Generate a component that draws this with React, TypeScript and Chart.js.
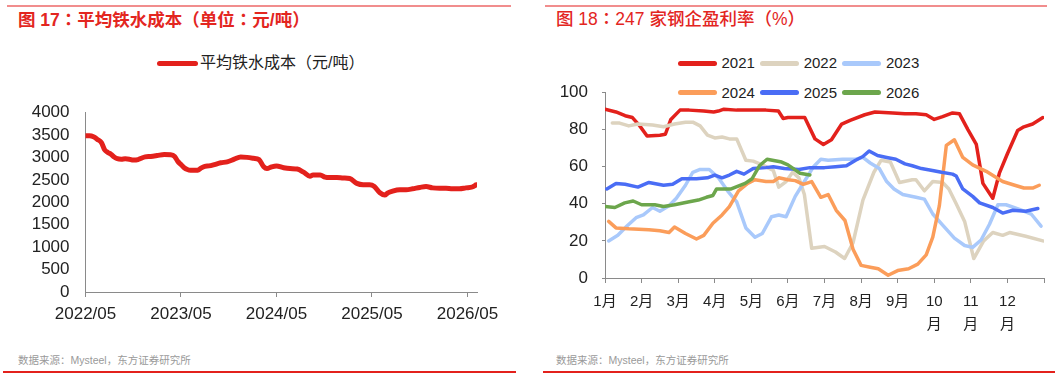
import React, { useEffect, useRef } from 'react';
import { Chart, registerables } from 'chart.js';

Chart.register(...registerables);

const FONT = '"Liberation Sans", "Noto Sans CJK SC", sans-serif';
const TITLE_FONT = '"Liberation Sans", "Noto Sans CJK TC", sans-serif';
const RED = '#e3211c';

// ---------- Figure 17: average hot-metal cost (months since 2022/05) ----------
const costMonths = [0, 0.5, 1.0, 1.5, 2.0, 2.4, 2.8, 3.2, 3.6, 4.0, 4.5, 5.0, 5.5, 6.0, 6.6, 7.0, 7.5, 8.2, 9.0, 9.9, 10.7, 11.2, 11.6, 12.0, 12.4, 12.8, 13.2, 14.1, 14.5, 15.0, 15.5, 16.2, 17.0, 17.8, 18.7, 19.5, 20.3, 21.1, 21.8, 22.4, 22.8, 23.4, 24.0, 24.9, 25.7, 26.6, 27.4, 28.2, 28.6, 29.5, 30.1, 30.7, 31.6, 32.4, 33.2, 34.1, 34.9, 35.7, 36.3, 37.0, 37.6, 38.0, 38.6, 39.5, 40.3, 41.1, 42.0, 42.8, 43.6, 44.5, 45.3, 46.1, 47.0, 47.8, 48.6, 49.1];
const costValues = [3480, 3480, 3460, 3400, 3330, 3170, 3110, 3070, 3010, 2970, 2960, 2970, 2960, 2940, 2950, 2980, 3010, 3020, 3040, 3065, 3060, 3020, 2910, 2840, 2770, 2730, 2715, 2715, 2760, 2800, 2810, 2840, 2880, 2900, 2960, 3010, 3000, 2980, 2950, 2790, 2750, 2790, 2810, 2770, 2750, 2740, 2670, 2580, 2610, 2610, 2560, 2550, 2550, 2540, 2530, 2420, 2390, 2390, 2350, 2210, 2160, 2210, 2250, 2280, 2280, 2300, 2330, 2350, 2320, 2310, 2310, 2300, 2300, 2320, 2340, 2390];
const costTickMonths = [0, 12, 24, 36, 48];
const costTickLabels = ['2022/05', '2023/05', '2024/05', '2025/05', '2026/05'];

// ---------- Figure 18: profitability of 247 steel mills (months since Jan 1) ----------
const monthLabels = ['1月', '2月', '3月', '4月', '5月', '6月', '7月', '8月', '9月', '10月', '11月', '12月'];

const t2021 = [0, 0.3, 0.55, 0.75, 0.95, 1.15, 1.5, 1.65, 1.8, 2.05, 2.3, 2.7, 2.97, 3.1, 3.25, 3.6, 4.0, 4.4, 4.74, 4.87, 5.0, 5.2, 5.46, 5.74, 5.97, 6.19, 6.47, 6.7, 7.1, 7.38, 7.87, 8.2, 8.5, 8.78, 9.0, 9.23, 9.5, 9.69, 9.92, 10.15, 10.33, 10.6, 10.78, 11.0, 11.28, 11.45, 11.69, 11.97];
const v2021 = [91, 89.5, 87.5, 86.5, 82, 76.5, 77, 77.5, 85.5, 90.5, 90.5, 90, 89.5, 90, 91, 90.5, 90.5, 90.5, 90, 86, 86.5, 86.5, 86.5, 75, 72, 74.5, 83, 85, 88, 89.5, 89, 88.5, 88.5, 88, 85.5, 87, 89, 88.5, 80, 72, 51, 43, 56.5, 67, 79.5, 81.5, 83, 86.5];

const t2022 = [0.2, 0.4, 0.65, 0.9, 1.3, 1.6, 1.9, 2.2, 2.4, 2.6, 2.8, 3.0, 3.2, 3.4, 3.6, 3.85, 4.05, 4.3, 4.6, 4.75, 4.95, 5.13, 5.3, 5.45, 5.65, 6.0, 6.3, 6.55, 6.78, 7.05, 7.35, 7.55, 7.8, 8.05, 8.4, 8.5, 8.73, 8.96, 9.23, 9.4, 9.6, 9.83, 10.08, 10.35, 10.6, 10.87, 11.06, 11.5, 11.97];
const v2022 = [83.5, 83.5, 82, 83, 82.5, 81.5, 83, 84, 84, 82, 77, 75.5, 76, 75, 75, 63.5, 63, 61, 58, 49, 52, 57, 54, 45, 16, 17, 14, 10.5, 19, 42, 57, 63.5, 62.5, 51.5, 53, 53, 47, 52, 51.5, 48, 40, 30.5, 10.5, 20, 24.5, 23, 24.5, 22.5, 20];

const t2023 = [0.1, 0.35, 0.6, 0.85, 1.05, 1.3, 1.5, 1.75, 1.95, 2.2, 2.4, 2.6, 2.85, 3.1, 3.35, 3.6, 3.85, 4.1, 4.3, 4.55, 4.75, 4.95, 5.2, 5.45, 5.7, 5.9, 6.1, 6.5, 6.85, 7.05, 7.25, 7.5, 7.7, 7.9, 8.14, 8.5, 8.73, 8.96, 9.23, 9.55, 9.83, 10.05, 10.28, 10.51, 10.74, 10.96, 11.33, 11.65, 11.92];
const v2023 = [20, 23, 28, 32.5, 34, 38, 36, 39, 43, 50, 57, 58.5, 58.5, 54, 47, 41, 27, 22, 24, 33, 34, 33, 44, 52, 60, 64, 63.5, 64, 64, 65, 62, 59, 52, 48, 45, 43.5, 42.5, 34.5, 28.5, 21.5, 17.5, 16.5, 20.5, 29, 39.5, 39.5, 37, 34.5, 28];

const t2024 = [0.1, 0.3, 0.65, 1.2, 1.5, 1.75, 1.9, 2.2, 2.5, 2.7, 2.95, 3.2, 3.4, 3.65, 3.9, 4.1, 4.4, 4.6, 4.75, 5.0, 5.2, 5.42, 5.65, 5.9, 6.1, 6.32, 6.56, 6.78, 7.0, 7.25, 7.47, 7.74, 8.0, 8.3, 8.55, 8.78, 8.96, 9.14, 9.33, 9.55, 9.78, 10.05, 10.42, 10.87, 11.2, 11.45, 11.69, 11.87];
const v2024 = [30.5, 27, 26.5, 26, 25.5, 24.5, 27.5, 24, 21, 23, 29.5, 34, 38.5, 47, 51, 53, 52, 52, 54, 53, 52.5, 50.5, 52, 43.5, 45, 36.5, 31, 15.5, 6.8, 5.8, 5, 1.5, 4, 5, 7.5, 12.5, 22, 39, 71.5, 74.5, 65, 61, 57.5, 52, 50, 48.5, 48.5, 50];

const t2025 = [0.05, 0.3, 0.55, 0.9, 1.2, 1.6, 1.85, 2.1, 2.5, 2.8, 3.0, 3.2, 3.4, 3.6, 3.8, 4.05, 4.4, 4.6, 4.9, 5.3, 5.6, 6.0, 6.3, 6.6, 6.85, 7.05, 7.22, 7.45, 7.7, 7.95, 8.2, 8.4, 8.65, 8.95, 9.2, 9.5, 9.6, 9.78, 10.05, 10.24, 10.6, 10.87, 11.15, 11.5, 11.83];
const v2025 = [48, 51, 50.5, 49, 51.5, 50, 50.5, 53.5, 53.5, 54, 55.5, 54, 55.5, 57.5, 56, 59, 59.5, 60, 59, 58.5, 59.5, 59.5, 60, 60.5, 63.5, 65.5, 68.5, 66, 65, 64, 61.5, 60.5, 59, 58, 57, 56, 55, 48, 44, 40.5, 38, 35, 36.5, 36, 37.5];

const t2026 = [0, 0.27, 0.54, 0.77, 1.0, 1.36, 1.6, 1.9, 2.27, 2.55, 2.77, 2.95, 3.05, 3.45, 3.83, 4.02, 4.22, 4.43, 4.83, 5.0, 5.33, 5.6];
const v2026 = [38.5, 38, 40.5, 41.5, 39.5, 39.5, 38.5, 39.5, 41, 42, 43.5, 44.5, 48, 48, 51, 53.5, 60.5, 64, 62.5, 61, 56.5, 55.5];

const seriesNames = ['2021', '2022', '2023', '2024', '2025', '2026'];
const seriesColors = ['#e3211c', '#ddd3bf', '#a9c9fb', '#fb9d5a', '#4a6df5', '#6ca64c'];
const seriesTimes = [t2021, t2022, t2023, t2024, t2025, t2026];
const seriesValues = [v2021, v2022, v2023, v2024, v2025, v2026];

const zip = (ts: number[], vs: number[]) => ts.map((t, i) => ({ x: t, y: vs[i] }));

const tickFont = (size: number, lineHeight?: number) => ({ family: FONT, size, lineHeight });

function CostChart() {
  const ref = useRef<HTMLCanvasElement | null>(null);
  useEffect(() => {
    if (!ref.current) return;
    const chart = new Chart(ref.current, {
      type: 'line',
      data: {
        datasets: [
          {
            label: '平均铁水成本（元/吨）',
            data: zip(costMonths, costValues),
            borderColor: RED,
            backgroundColor: RED,
            borderWidth: 5,
            pointRadius: 0,
            cubicInterpolationMode: 'monotone',
            borderCapStyle: 'round',
            borderJoinStyle: 'round',
          },
        ],
      },
      options: {
        animation: false,
        responsive: false,
        maintainAspectRatio: false,
        layout: { padding: { top: 13.5, right: 43, left: 0, bottom: 0 } },
        plugins: { legend: { display: false }, tooltip: { enabled: false } },
        scales: {
          x: {
            type: 'linear',
            min: 0,
            max: 49.2,
            afterBuildTicks: (s: any) => {
              s.ticks = costTickMonths.map((v) => ({ value: v }));
            },
            afterFit: (s: any) => {
              s.height = 41;
            },
            ticks: {
              callback: (v: any) => {
                const i = costTickMonths.indexOf(Number(v));
                return i >= 0 ? costTickLabels[i] : '';
              },
              font: tickFont(17),
              color: '#222',
              padding: 7,
              maxRotation: 0,
              autoSkip: false,
            },
            grid: { drawOnChartArea: false, drawTicks: true, tickLength: 5, color: '#8a8a8a' },
            border: { display: true, color: '#8a8a8a', width: 1 },
          },
          y: {
            min: 0,
            max: 4000,
            afterFit: (s: any) => {
              s.width = 85.5;
            },
            ticks: {
              stepSize: 500,
              autoSkip: false,
              callback: (v: any) => String(v),
              font: tickFont(17, 1),
              color: '#222',
              padding: 16,
            },
            grid: { display: false, drawTicks: false },
            border: { display: true, color: '#8a8a8a', width: 1 },
          },
        },
      },
    } as any);
    return () => chart.destroy();
  }, []);
  return <canvas ref={ref} width={520} height={245} style={{ position: 'absolute', left: 0, top: 88 }} />;
}

function ProfitChart() {
  const ref = useRef<HTMLCanvasElement | null>(null);
  useEffect(() => {
    if (!ref.current) return;
    const chart = new Chart(ref.current, {
      type: 'line',
      data: {
        datasets: seriesNames.map((name, i) => ({
          label: name,
          data: zip(seriesTimes[i], seriesValues[i]),
          borderColor: seriesColors[i],
          backgroundColor: seriesColors[i],
          borderWidth: 3.5,
          pointRadius: 0,
          tension: 0,
          borderCapStyle: 'round',
          borderJoinStyle: 'round',
          order: seriesNames.length - i,
        })),
      },
      options: {
        animation: false,
        responsive: false,
        maintainAspectRatio: false,
        layout: { padding: { top: 13, right: 17, left: 0, bottom: 0 } },
        plugins: { legend: { display: false }, tooltip: { enabled: false } },
        scales: {
          x: {
            type: 'linear',
            min: 0,
            max: 12,
            afterBuildTicks: (s: any) => {
              s.ticks = [...monthLabels.map((_, i) => ({ value: i })), { value: 12 }];
            },
            afterFit: (s: any) => {
              s.height = 62;
            },
            ticks: {
              callback: (v: any) => {
                const lab = monthLabels[Number(v)];
                if (!lab) return '';
                return lab.length > 2 ? [lab.slice(0, -1), lab.slice(-1)] : lab;
              },
              font: tickFont(15, 1.55),
              color: '#222',
              padding: 7,
              maxRotation: 0,
              autoSkip: false,
            },
            grid: { drawOnChartArea: false, drawTicks: true, tickLength: 5, color: '#8a8a8a' },
            border: { display: true, color: '#8a8a8a', width: 1 },
          },
          y: {
            min: 0,
            max: 100,
            afterFit: (s: any) => {
              s.width = 65;
            },
            ticks: { stepSize: 20, autoSkip: false, font: tickFont(17, 1), color: '#222', padding: 14 },
            grid: { drawOnChartArea: false, drawTicks: true, tickLength: 3, color: '#8a8a8a' },
            border: { display: true, color: '#8a8a8a', width: 1 },
          },
        },
      },
    } as any);
    return () => chart.destroy();
  }, []);
  return <canvas ref={ref} width={521} height={270} style={{ position: 'absolute', left: 540, top: 70 }} />;
}

const abs = (left: number, top: number, extra: React.CSSProperties = {}): React.CSSProperties => ({
  position: 'absolute',
  left,
  top,
  whiteSpace: 'nowrap',
  fontFamily: FONT,
  ...extra,
});

export default function App() {
  return (
    <div
      style={{
        position: 'absolute',
        left: 0,
        top: 0,
        width: 1061,
        height: 379,
        background: '#fff',
        overflow: 'hidden',
      }}
    >
      {/* top rules */}
      <div style={abs(7, 5, { width: 504, height: 2, background: '#f18d8d' })} />
      <div style={abs(545, 5, { width: 502, height: 2, background: '#f18d8d' })} />

      {/* titles */}
      <div style={abs(18, 9, { fontSize: 17.5, lineHeight: '22px', fontWeight: 700, color: '#e3261f', fontFamily: TITLE_FONT })}>
        图 17：平均铁水成本（单位：元/吨）
      </div>
      <div style={abs(556, 8, { fontSize: 17.5, lineHeight: '22px', fontWeight: 500, color: '#e3261f', fontFamily: TITLE_FONT })}>
        图 18：247 家钢企盈利率（%）
      </div>

      {/* left legend */}
      <div style={abs(157, 60.5, { width: 41, height: 5, borderRadius: 3, background: RED })} />
      <div style={abs(200, 52, { fontSize: 16, lineHeight: '22px', color: '#222', fontFamily: TITLE_FONT })}>
        平均铁水成本（元/吨）
      </div>

      {/* right legend */}
      {seriesNames.map((name, i) => {
        const col = i % 3;
        const row = Math.floor(i / 3);
        const left = 678 + col * 82.2;
        const cy = 63.3 + row * 29.4;
        return (
          <React.Fragment key={name}>
            <div
              style={abs(left, cy - 2.5, {
                width: 39,
                height: 5,
                borderRadius: 3,
                background: seriesColors[i],
              })}
            />
            <div style={abs(left + 43.5, cy - 10, { fontSize: 15, lineHeight: '20px', color: '#222' })}>{name}</div>
          </React.Fragment>
        );
      })}

      <CostChart />
      <ProfitChart />

      {/* footers */}
      <div style={abs(18, 353, { fontSize: 10.5, lineHeight: '14px', color: '#9a9a9a' })}>
        数据来源：Mysteel，东方证券研究所
      </div>
      <div style={abs(556, 353, { fontSize: 10.5, lineHeight: '14px', color: '#9a9a9a' })}>
        数据来源：Mysteel，东方证券研究所
      </div>
      <div style={abs(3, 371, { width: 513, height: 2, background: RED })} />
      <div style={abs(543, 371, { width: 512, height: 2, background: RED })} />
    </div>
  );
}
